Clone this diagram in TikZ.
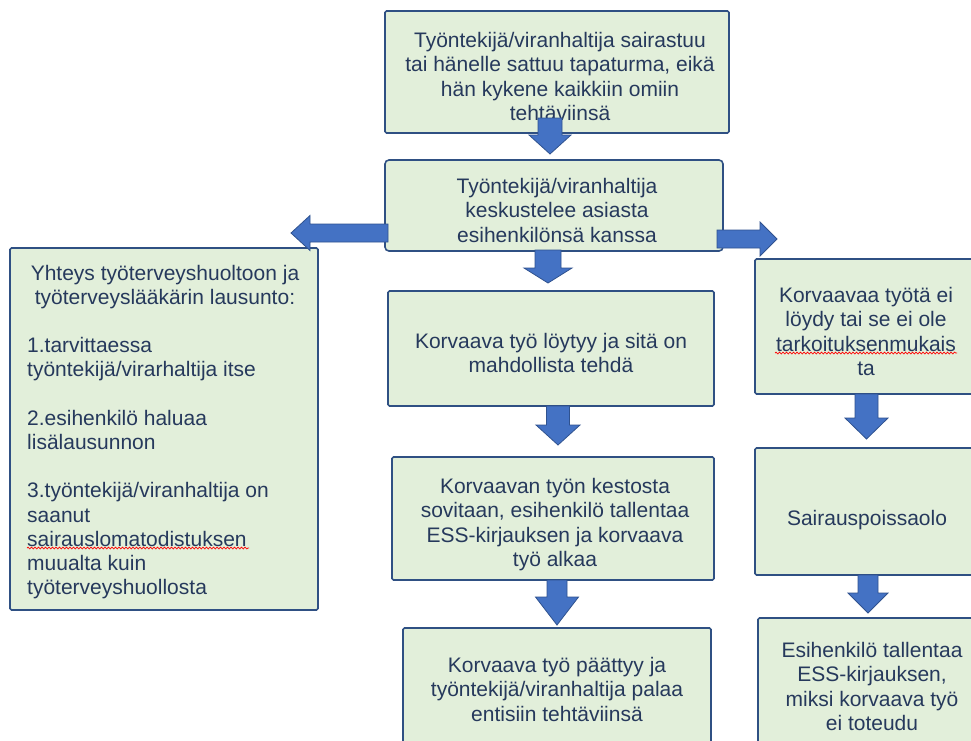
\documentclass[tikz,border=0pt]{standalone}
\usepackage{fontspec}
\setmainfont{Liberation Sans}
\usetikzlibrary{calc,decorations.pathmorphing}
\definecolor{boxfill}{HTML}{E2EFDA}
\definecolor{boxline}{HTML}{2F5083}
\definecolor{arrowfill}{HTML}{4472C4}
\definecolor{arrowline}{HTML}{2F528F}
\definecolor{textcol}{HTML}{26395C}
\newcommand\blockarrow[5]{%
  \path ($(#2)!#5!(#1)$) coordinate (bac);
  \draw[barrow] ($(#1)!#3!90:(#2)$) -- ($(bac)!#3!90:(#2)$) -- ($(bac)!#4!90:(#2)$) -- (#2)
    -- ($(bac)!#4!-90:(#2)$) -- ($(bac)!#3!-90:(#2)$) -- ($(#1)!#3!-90:(#2)$) -- cycle;}
\begin{document}
\begin{tikzpicture}[x=1pt,y=-1pt,
  box/.style={draw=boxline, fill=boxfill, line width=1.6pt, inner sep=0pt, outer sep=0pt, rounded corners=1.5pt},
  txt/.style={text=textcol, font=\fontsize{21}{24.2}\selectfont, inner sep=0pt, anchor=north, align=center},
  barrow/.style={fill=arrowfill, draw=arrowline, line width=0.8pt, line join=miter},
  spell/.style={draw=red, line width=0.7pt, decorate, decoration={snake, amplitude=0.9pt, segment length=3.5pt}}]
\useasboundingbox[fill=white] (0,0) rectangle (971,740);

% boxes
\node[box, minimum width=344pt, minimum height=122pt] (b1) at (557,72) {};
\node[box, rounded corners=4pt, minimum width=338pt, minimum height=91pt] (b2) at (554,205.5) {};
\node[box, minimum width=308pt, minimum height=362pt] (L) at (164,429) {};
\node[box, minimum width=326pt, minimum height=115pt] (m1) at (551,348.5) {};
\node[box, minimum width=322pt, minimum height=123pt] (m2) at (553,518.5) {};
\node[box, minimum width=308pt, minimum height=132pt] (m3) at (557,694) {};
\node[box, minimum width=225pt, minimum height=135pt] (r1) at (867.5,326.5) {};
\node[box, minimum width=225pt, minimum height=127pt] (r2) at (867.5,511.5) {};
\node[box, minimum width=232pt, minimum height=142pt] (r3) at (874,689) {};

% texts
\node[txt] (t1) at (560,29.5) {\rule{0pt}{18pt}Työntekijä/viranhaltija sairastuu\\tai hänelle sattuu tapaturma, eikä\\hän kykene kaikkiin omiin\\tehtäviinsä};
\node[txt] (t2) at (557,175.5) {\rule{0pt}{18pt}Työntekijä/viranhaltija\\keskustelee asiasta\\esihenkilönsä kanssa};
\node[txt] (tL1) at (165,262.5) {\rule{0pt}{18pt}Yhteys työterveyshuoltoon ja\\työterveyslääkärin lausunto:};
\node[txt, anchor=north west, align=left] (tL2) at (27,334.5) {\rule{0pt}{18pt}1.tarvittaessa\\työntekijä/virarhaltija itse\\[24.2pt]2.esihenkilö haluaa\\lisälausunnon\\[24.2pt]3.työntekijä/viranhaltija on\\saanut\\sairauslomatodistuksen\\muualta kuin\\työterveyshuollosta};
\node[txt] (tm1) at (551,330.5) {\rule{0pt}{18pt}Korvaava työ löytyy ja sitä on\\mahdollista tehdä};
\node[txt] (tm2) at (555,475.5) {\rule{0pt}{18pt}Korvaavan työn kestosta\\sovitaan, esihenkilö tallentaa\\ESS-kirjauksen ja korvaava\\työ alkaa};
\node[txt] (tm3) at (557,654.5) {\rule{0pt}{18pt}Korvaava työ päättyy ja\\työntekijä/viranhaltija palaa\\entisiin tehtäviinsä};
\node[txt] (tr1) at (866,284.5) {\rule{0pt}{18pt}Korvaavaa työtä ei\\löydy tai se ei ole\\tarkoituksenmukais\\ta};
\node[txt] (tr2) at (867,507) {\rule{0pt}{18pt}Sairauspoissaolo};
\node[txt] (tr3) at (872,639.5) {\rule{0pt}{18pt}Esihenkilö tallentaa\\ESS-kirjauksen,\\miksi korvaava työ\\ei toteudu};

% spell-check underlines
\coordinate (u1a) at (27,548); \coordinate (u1b) at (249,548);
\coordinate (u2a) at (775,353); \coordinate (u2b) at (957,353);
\draw[spell] (u1a) -- (u1b);
\draw[spell] (u2a) -- (u2b);

% arrow end points
\coordinate (a1s) at (550,118);   \coordinate (a1e) at (550,154);
\coordinate (a2s) at (548,250);   \coordinate (a2e) at (548,283);
\coordinate (a3s) at (558,406);   \coordinate (a3e) at (558,445);
\coordinate (a4s) at (557,580);   \coordinate (a4e) at (557,625);
\coordinate (a5s) at (388,233);   \coordinate (a5e) at (291,233);
\coordinate (a6s) at (717,239);   \coordinate (a6e) at (777,239);
\coordinate (a7s) at (866.5,394); \coordinate (a7e) at (866.5,439);
\coordinate (a8s) at (868,575);   \coordinate (a8e) at (868,613);

\blockarrow{a1s}{a1e}{12pt}{21pt}{19pt}
\blockarrow{a2s}{a2e}{13pt}{24pt}{15pt}
\blockarrow{a3s}{a3e}{11.5pt}{22pt}{20pt}
\blockarrow{a4s}{a4e}{10pt}{21.5pt}{28pt}
\blockarrow{a5s}{a5e}{9pt}{17.5pt}{19pt}
\blockarrow{a6s}{a6e}{9pt}{17pt}{17pt}
\blockarrow{a7s}{a7e}{11.5pt}{21.5pt}{21pt}
\blockarrow{a8s}{a8e}{10pt}{20pt}{20pt}
\end{tikzpicture}
\end{document}
